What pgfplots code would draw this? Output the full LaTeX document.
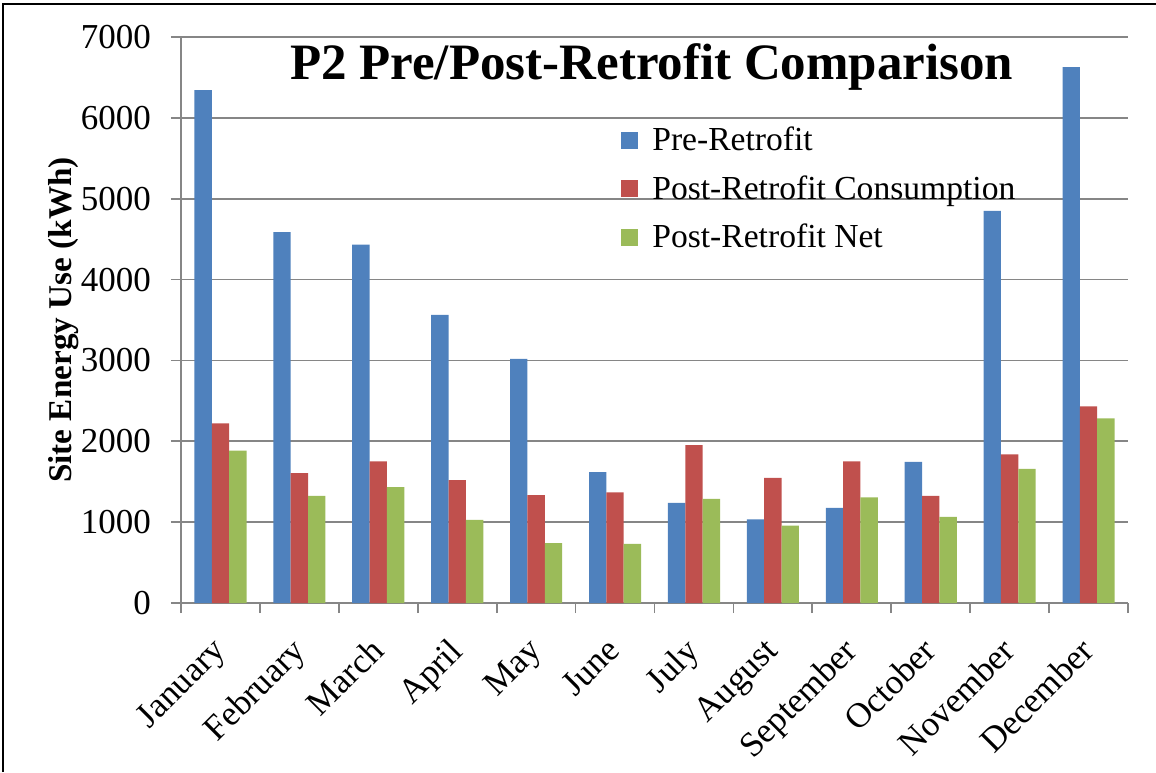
\documentclass[border=0pt]{standalone}
\usepackage{pgfplots}
\pgfplotsset{compat=1.18}
\usepackage{fontspec}
\setmainfont{Liberation Serif}
\definecolor{preblue}{HTML}{4F81BD}
\definecolor{postred}{HTML}{C0504D}
\definecolor{netgreen}{HTML}{9BBB59}
\definecolor{axgray}{HTML}{868686}

\begin{document}
\begin{tikzpicture}
\useasboundingbox (-90.5pt,-84.5pt) rectangle (487.5pt,301.5pt);
\draw[black,line width=0.8pt] (-89pt,-84.5pt) -- (-89pt,299.5pt) -- (487.5pt,299.5pt);
\begin{axis}[
    at={(0,0)}, anchor=south west,
    scale only axis,
    width=473.5pt, height=283pt,
    ybar=0pt, bar width=0.22,
    xmin=-0.5, xmax=11.5,
    ymin=0, ymax=7000,
    ytick={0,1000,...,7000},
    xtick={-0.5,0.5,...,11.5},
    xticklabels={},
    extra x ticks={0,1,...,11},
    extra x tick labels={January,February,March,April,May,June,July,August,September,October,November,December},
    extra x tick style={major tick length=0pt, grid=none},
    xticklabel style={rotate=45, anchor=north east, inner sep=0pt, xshift=-15pt, yshift=-8pt,
        font=\fontsize{17.5}{20}\selectfont},
    yticklabel style={font=\fontsize{17.5}{20}\selectfont, xshift=-6.5pt},
    /pgf/number format/assume math mode=true,
    /pgf/number format/1000 sep={},
    scaled y ticks=false,
    axis lines=left,
    axis line style={-, draw=axgray, line width=0.9pt},
    tick style={draw=axgray, line width=0.9pt},
    tick align=outside,
    major tick length=5pt,
    ymajorgrids,
    grid style={axgray, line width=0.9pt},
    ylabel={Site Energy Use (kWh)},
    ylabel style={at={(axis description cs:-0.1236,0.5)}, anchor=center,
        font=\bfseries\fontsize{16.6}{20}\selectfont},
    title={P2 Pre/Post-Retrofit Comparison},
    title style={at={(axis description cs:0.497,0.9046)}, anchor=base,
        font=\bfseries\fontsize{25.5}{30}\selectfont},
    legend style={at={(axis description cs:0.458,0.856)}, anchor=north west,
        draw=none, fill=none, row sep=7pt, column sep=5pt,
        font=\fontsize{16.8}{20}\selectfont},
    legend cell align=left,
    legend image code/.code={\fill[#1] (0pt,-4.3pt) rectangle (8.6pt,4.3pt);},
]
\addplot[fill=preblue, draw=none] coordinates {
    (0,6344) (1,4586) (2,4433) (3,3563) (4,3019) (5,1619)
    (6,1237) (7,1033) (8,1177) (9,1744) (10,4851) (11,6628)};
\addplot[fill=postred, draw=none] coordinates {
    (0,2223) (1,1605) (2,1753) (3,1521) (4,1335) (5,1367)
    (6,1953) (7,1549) (8,1753) (9,1326) (10,1837) (11,2433)};
\addplot[fill=netgreen, draw=none] coordinates {
    (0,1884) (1,1326) (2,1433) (3,1028) (4,740) (5,730)
    (6,1288) (7,958) (8,1307) (9,1065) (10,1660) (11,2284)};
\legend{Pre-Retrofit, Post-Retrofit Consumption, Post-Retrofit Net}
\end{axis}
\end{tikzpicture}
\end{document}
